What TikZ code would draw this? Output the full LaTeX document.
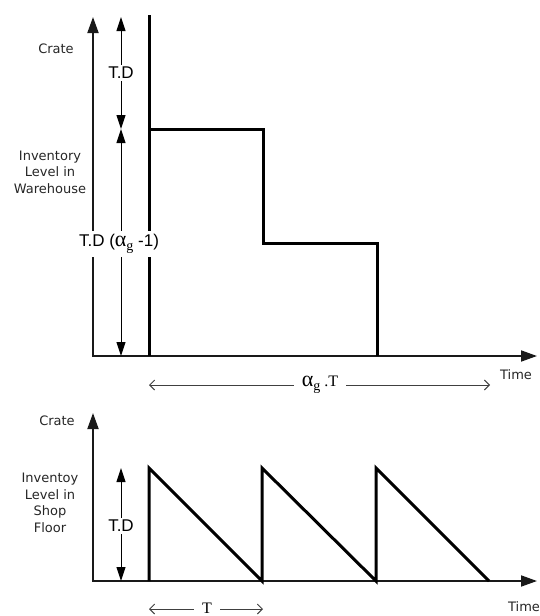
\documentclass[tikz,border=0pt]{standalone}
\usepackage{fontspec}
\setmainfont{DejaVu Sans}
\newfontfamily\arialf{Liberation Sans}
\newfontfamily\serf{Liberation Serif}
\newcommand{\alphag}{{\serf\fontsize{22}{22}\selectfont α}\raisebox{-3.5pt}{\serf\fontsize{14}{14}\selectfont g}}
\usetikzlibrary{arrows.meta}
\begin{document}
\begin{tikzpicture}[x=1pt,y=-1pt,
 axis/.style={line width=1.8pt, black!90, {Triangle[length=16pt,width=11pt]}-{Triangle[length=16pt,width=11pt]}},
 dimarrow/.style={line width=1pt, {Triangle[length=14pt,width=9pt]}-{Triangle[length=14pt,width=9pt]}},
 curve/.style={line width=3pt, line join=miter},
 span/.style={line width=0.9pt, black!75, {Straight Barb[length=5pt,width=10pt]}-{Straight Barb[length=5pt,width=10pt]}},
 lbl/.style={font=\fontsize{13}{16.5}\selectfont, align=center, inner sep=0pt, text=black!85},
 dimlbl/.style={font=\arialf\fontsize{17}{20}\selectfont, fill=white, inner sep=2pt},
 spanlbl/.style={font=\serf\fontsize{16}{18}\selectfont, fill=white, inner sep=4pt},
]
\useasboundingbox (0,0) rectangle (539,616);
% ---------- top chart ----------
\coordinate (Y1) at (93,17);
\coordinate (O1) at (93,356);
\coordinate (X1) at (537,356);
\draw[axis] (Y1) -- (O1) -- (X1);
\coordinate (S0) at (149,15);
\coordinate (S1) at (149,356);
\draw[curve] (S0) -- (S1);
\coordinate (A1) at (149,129);
\coordinate (A2) at (263,129);
\coordinate (A3) at (263,243);
\coordinate (A4) at (377,243);
\coordinate (A5) at (377,356);
\draw[curve] (A1) -- (A2) -- (A3) -- (A4) -- (A5);
\coordinate (D0) at (121,17);
\coordinate (D1) at (121,129);
\coordinate (D2) at (121,356);
\draw[dimarrow] (D0) -- (D1);
\draw[dimarrow] (D1) -- (D2);
\node[dimlbl] (td1) at (121,73) {T.D};
\node[dimlbl, inner ysep=4pt] (td2) at (119,244) {T.D (\alphag\ -1)};
\node[lbl] (crate1) at (56,49) {Crate};
\node[lbl] (inv1) at (50,172) {Inventory\\Level in\\Warehouse};
\node[lbl] (time1) at (516,375) {Time};
\coordinate (G0) at (149,385);
\coordinate (G1) at (490,385);
\draw[span] (G0) -- (G1);
\node[spanlbl, inner xsep=8pt] (agt) at (320,385) {\alphag\ .T};
% ---------- bottom chart ----------
\coordinate (Y2) at (93,413);
\coordinate (O2) at (93,581);
\coordinate (X2) at (537,581);
\draw[axis] (Y2) -- (O2) -- (X2);
\coordinate (B0) at (149,581);
\coordinate (B1) at (149,468);
\coordinate (B2) at (262,581);
\coordinate (B3) at (262,468);
\coordinate (B4) at (376,581);
\coordinate (B5) at (376,468);
\coordinate (B6) at (489,581);
\draw[curve] (B0) -- (B1) -- (B2) -- (B3) -- (B4) -- (B5) -- (B6);
\coordinate (E0) at (121,468);
\coordinate (E1) at (121,581);
\draw[dimarrow] (E0) -- (E1);
\node[dimlbl] (td3) at (121,526) {T.D};
\node[lbl] (crate2) at (57,421) {Crate};
\node[lbl] (inv2) at (50,503) {Inventoy\\Level in\\Shop\\Floor};
\node[lbl] (time2) at (524,607) {Time};
\coordinate (T0) at (149,609);
\coordinate (T1) at (263,609);
\draw[span] (T0) -- (T1);
\node[spanlbl, inner sep=2pt, inner xsep=8pt] (tlbl) at (207,608) {T};
\end{tikzpicture}
\end{document}
